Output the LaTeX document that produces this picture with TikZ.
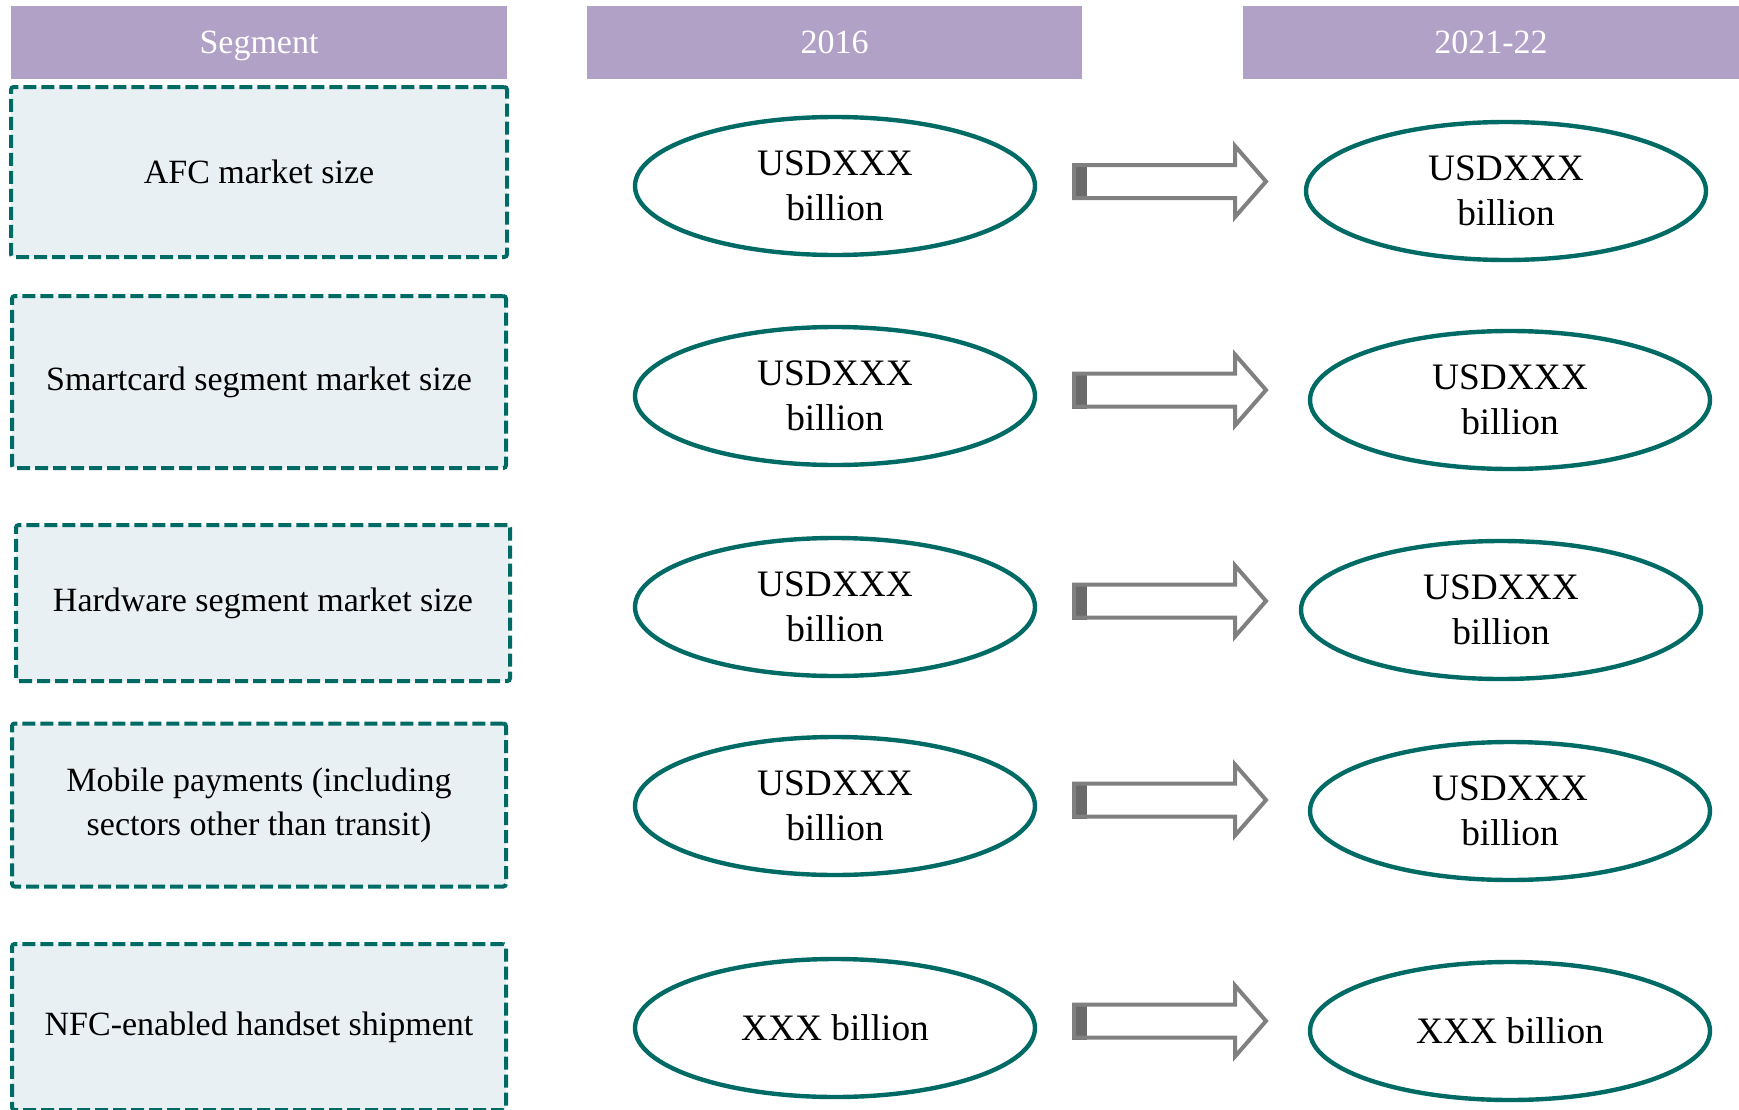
\documentclass[tikz,border=0pt]{standalone}
\usepackage{fontspec}
\setmainfont{Liberation Serif}
\usetikzlibrary{shapes.geometric}
\definecolor{hdr}{HTML}{B2A1C7}
\definecolor{teal}{HTML}{006B64}
\definecolor{boxfill}{HTML}{E8F0F3}
\definecolor{arrgray}{HTML}{808080}
\definecolor{arrdark}{HTML}{6A6A6A}
\tikzset{
  header/.style={fill=hdr, text=white, minimum height={73*0.75pt}, inner sep=0pt,
    text height=15.8pt, text depth=0pt,
    font=\fontsize{25.5pt}{30pt}\selectfont},
  segbox/.style={draw=teal, fill=boxfill, line width=3pt, dash pattern=on 9.75pt off 3.75pt,
    rounded corners=2pt, align=center, inner sep=0pt,
    font=\fontsize{25.5pt}{33pt}\selectfont},
  valell/.style={ellipse, draw=teal, line width=3.3pt, fill=white, inner sep=0pt,
    minimum width={400*0.75pt}, minimum height={138*0.75pt}, align=center,
    font=\fontsize{28pt}{33.75pt}\selectfont},
  pics/bigarrow/.style={code={
    \fill[arrdark] (-2,-18.5) rectangle (13,18.5);
    \draw[arrgray, line width=3pt, line join=miter]
      (0,-16.5) -- (161,-16.5) -- (161,-35.5) -- (192,0) -- (161,35.5) -- (161,16.5) -- (0,16.5) -- cycle;
  }}
}
\begin{document}
\begin{tikzpicture}[x=0.75pt, y=-0.75pt]
\useasboundingbox (0,0) rectangle (1739,1110);
% headers
\node[header, minimum width={496*0.75pt}] (h1) at (259,42.5) {Segment};
\node[header, minimum width={495*0.75pt}] (h2) at (834.5,42.5) {2016};
\node[header, minimum width={496*0.75pt}] (h3) at (1491,42.5) {2021-22};
% segment boxes
\node[segbox, minimum width={496*0.75pt}, minimum height={170*0.75pt}] (b1) at (259,172) {AFC market size};
\node[segbox, minimum width={494*0.75pt}, minimum height={172*0.75pt}] (b2) at (259,382) {Smartcard segment market size};
\node[segbox, minimum width={494*0.75pt}, minimum height={156*0.75pt}] (b3) at (263,603) {Hardware segment market size};
\node[segbox, minimum width={494*0.75pt}, minimum height={163*0.75pt}] (b4) at (259,805) {Mobile payments (including\\sectors other than transit)};
\node[segbox, minimum width={494*0.75pt}, minimum height={166*0.75pt}] (b5) at (259,1027) {NFC-enabled handset shipment};
% 2016 values
\node[valell] (a1) at (835,186) {USDXXX\\billion};
\node[valell] (a2) at (835,396) {USDXXX\\billion};
\node[valell] (a3) at (835,607) {USDXXX\\billion};
\node[valell] (a4) at (835,806) {USDXXX\\billion};
\node[valell] (a5) at (835,1028) {XXX billion};
% 2021-22 values
\node[valell] (c1) at (1506,191) {USDXXX\\billion};
\node[valell] (c2) at (1510,400) {USDXXX\\billion};
\node[valell] (c3) at (1501,610) {USDXXX\\billion};
\node[valell] (c4) at (1510,811) {USDXXX\\billion};
\node[valell] (c5) at (1510,1031) {XXX billion};
% arrows
\pic at (1074,181.5) {bigarrow};
\pic at (1074,390) {bigarrow};
\pic at (1074,601) {bigarrow};
\pic at (1074,800) {bigarrow};
\pic at (1074,1021) {bigarrow};
\end{tikzpicture}
\end{document}
